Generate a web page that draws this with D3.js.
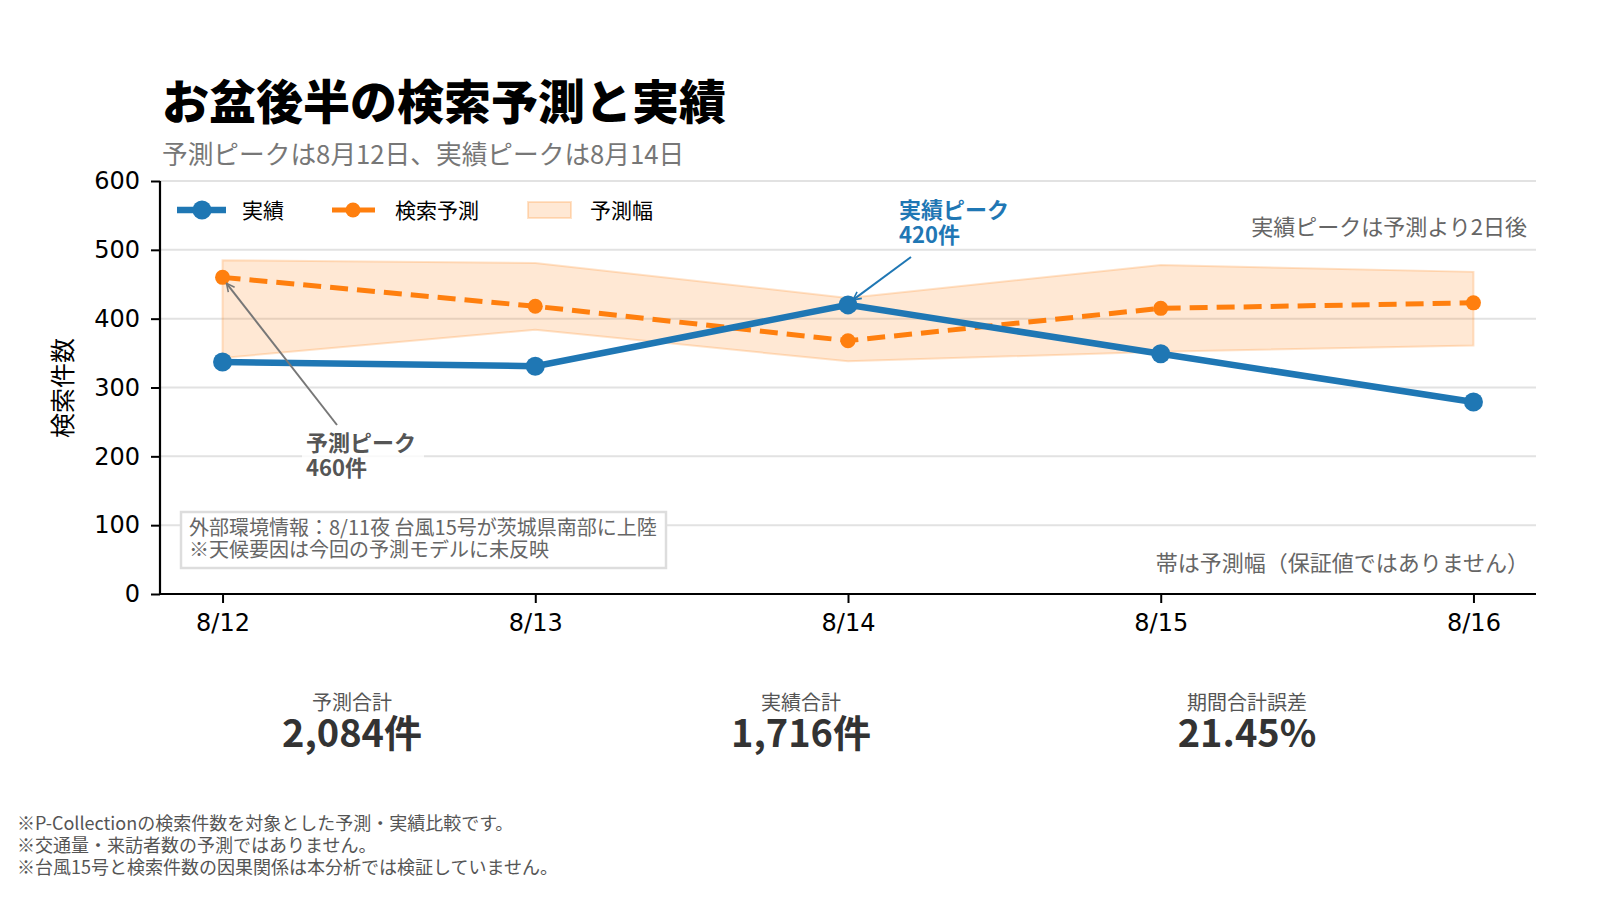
<!DOCTYPE html>
<html lang="ja">
<head>
<meta charset="utf-8">
<script src="https://cdn.jsdelivr.net/npm/d3@7"></script>
<style>
  body { margin: 0; background: #fff; }
  svg { display: block; font-family: "Noto Sans CJK JP", "Noto Sans", sans-serif; }
</style>
</head>
<body>
<svg id="chart" width="1600" height="900"></svg>
<script>
// data
var dates = ["8/12", "8/13", "8/14", "8/15", "8/16"];
var actual = [337, 331, 420, 349, 279];
var forecast = [460, 418, 368, 415, 423];
var bandHigh = [485, 481, 430, 478, 468];
var bandLow = [343, 384, 338, 352, 361];
var yTicks = [0, 100, 200, 300, 400, 500, 600];
var footNotes = [
  "※P-Collectionの検索件数を対象とした予測・実績比較です。",
  "※交通量・来訪者数の予測ではありません。",
  "※台風15号と検索件数の因果関係は本分析では検証していません。"
];

var blue = "#1f77b4", orange = "#ff7f0e";
var svg = d3.select("#chart");
var pLeft = 160, pRight = 1536, pTop = 181, pBottom = 594;

var x = d3.scalePoint().domain(dates).range([pLeft, pRight]).padding(0.2);
var y = d3.scaleLinear().domain([0, 600]).range([pBottom, pTop]);

// title
svg.append("text").attr("x", 162).attr("y", 119)
  .style("font-size", "47px").style("font-weight", "900").style("fill", "#000")
  .text("お盆後半の検索予測と実績");
svg.append("text").attr("x", 162).attr("y", 164)
  .style("font-size", "25.7px").style("fill", "#777")
  .text("予測ピークは8月12日、実績ピークは8月14日");

// grid
svg.append("g").selectAll("line").data(yTicks.slice(1)).join("line")
  .attr("x1", pLeft).attr("x2", pRight)
  .attr("y1", function (d) { return y(d); }).attr("y2", function (d) { return y(d); })
  .style("stroke", "#e2e2e2").style("stroke-width", 2);

// band
var area = d3.area()
  .x(function (d, i) { return x(dates[i]); })
  .y0(function (d, i) { return y(bandLow[i]); })
  .y1(function (d) { return y(d); });
svg.append("path").datum(bandHigh).attr("d", area)
  .style("fill", orange).style("fill-opacity", 0.18)
  .style("stroke", orange).style("stroke-opacity", 0.22).style("stroke-width", 2);

// axes
var yAxis = svg.append("g").attr("transform", "translate(" + pLeft + ",0)")
  .call(d3.axisLeft(y).tickValues(yTicks).tickSize(9).tickPadding(11));
var xAxis = svg.append("g").attr("transform", "translate(0," + pBottom + ")")
  .call(d3.axisBottom(x).tickSize(9).tickPadding(11));
[yAxis, xAxis].forEach(function (g) {
  g.select(".domain").style("stroke", "#000").style("stroke-width", 2.2);
  g.selectAll(".tick line").style("stroke", "#000").style("stroke-width", 2);
  g.selectAll(".tick text").style("font-size", "24px").style("fill", "#000")
    .style("font-family", "'DejaVu Sans', sans-serif");
});
xAxis.select(".domain").attr("d", "M" + pLeft + ",0H" + pRight);
yAxis.select(".domain").attr("d", "M0," + pBottom + "V" + pTop);

svg.append("text")
  .attr("transform", "translate(72,388) rotate(-90)")
  .attr("text-anchor", "middle")
  .style("font-size", "25px").style("fill", "#000")
  .text("検索件数");

// lines
var line = function (vals) {
  return d3.line().x(function (d, i) { return x(dates[i]); }).y(function (d) { return y(d); })(vals);
};
svg.append("path").attr("d", line(forecast))
  .style("fill", "none").style("stroke", orange).style("stroke-width", 5)
  .style("stroke-dasharray", "18,9");
svg.append("g").selectAll("circle").data(forecast).join("circle")
  .attr("cx", function (d, i) { return x(dates[i]); }).attr("cy", function (d) { return y(d); })
  .attr("r", 7.5).style("fill", orange);

svg.append("path").attr("d", line(actual))
  .style("fill", "none").style("stroke", blue).style("stroke-width", 6.5);
svg.append("g").selectAll("circle").data(actual).join("circle")
  .attr("cx", function (d, i) { return x(dates[i]); }).attr("cy", function (d) { return y(d); })
  .attr("r", 9.5).style("fill", blue);

// legend
var lg = svg.append("g").attr("transform", "translate(0,210)");
lg.append("line").attr("x1", 177).attr("x2", 226).style("stroke", blue).style("stroke-width", 6.5);
lg.append("circle").attr("cx", 202).attr("r", 9.5).style("fill", blue);
lg.append("text").attr("x", 242).attr("y", 8).style("font-size", "21px").text("実績");
lg.append("line").attr("x1", 332).attr("x2", 375).style("stroke", orange).style("stroke-width", 5);
lg.append("circle").attr("cx", 353).attr("r", 7.5).style("fill", orange);
lg.append("text").attr("x", 395).attr("y", 8).style("font-size", "21px").text("検索予測");
lg.append("rect").attr("x", 528).attr("y", -8).attr("width", 43).attr("height", 16)
  .style("fill", orange).style("fill-opacity", 0.18)
  .style("stroke", orange).style("stroke-opacity", 0.22).style("stroke-width", 2);
lg.append("text").attr("x", 590).attr("y", 8).style("font-size", "21px").text("予測幅");

// notes in plot
svg.append("text").attr("x", 1527).attr("y", 235).attr("text-anchor", "end")
  .style("font-size", "22px").style("fill", "#666").text("実績ピークは予測より2日後");
svg.append("text").attr("x", 1529).attr("y", 571).attr("text-anchor", "end")
  .style("font-size", "22px").style("fill", "#666").text("帯は予測幅（保証値ではありません）");

svg.append("rect").attr("x", 181).attr("y", 512).attr("width", 485).attr("height", 56)
  .style("fill", "#fff").style("stroke", "#dddddd").style("stroke-width", 2.5);
svg.append("text").attr("x", 189).attr("y", 535)
  .style("font-size", "20px").style("fill", "#666")
  .text("外部環境情報：8/11夜 台風15号が茨城県南部に上陸");
svg.append("text").attr("x", 189).attr("y", 557)
  .style("font-size", "20px").style("fill", "#666")
  .text("※天候要因は今回の予測モデルに未反映");

// annotations
var defs = svg.append("defs");
[["arrGray", "#777"], ["arrBlue", blue]].forEach(function (m) {
  defs.append("marker").attr("id", m[0]).attr("viewBox", "0 0 10 10")
    .attr("refX", 9).attr("refY", 5).attr("markerWidth", 10).attr("markerHeight", 10)
    .attr("markerUnits", "userSpaceOnUse").attr("orient", "auto")
    .append("path").attr("d", "M1,1L9,5L1,9").style("fill", "none")
    .style("stroke", m[1]).style("stroke-width", 1.6);
});
var fi = forecast.indexOf(d3.max(forecast));
var ai = actual.indexOf(d3.max(actual));
svg.append("line").attr("x1", 337).attr("y1", 425)
  .attr("x2", x(dates[fi]) + 4).attr("y2", y(forecast[fi]) + 6)
  .style("stroke", "#777").style("stroke-width", 2).attr("marker-end", "url(#arrGray)");
svg.append("rect").attr("x", 302).attr("y", 430).attr("width", 122).attr("height", 52)
  .style("fill", "#fff").style("fill-opacity", 0.8);
svg.append("text").attr("x", 306).attr("y", 451)
  .style("font-size", "22px").style("font-weight", "bold").style("fill", "#555")
  .text("予測ピーク");
svg.append("text").attr("x", 306).attr("y", 476)
  .style("font-size", "22px").style("font-weight", "bold").style("fill", "#555")
  .text(forecast[fi] + "件");

svg.append("line").attr("x1", 911).attr("y1", 257)
  .attr("x2", x(dates[ai]) + 5).attr("y2", y(actual[ai]) - 5)
  .style("stroke", blue).style("stroke-width", 2).attr("marker-end", "url(#arrBlue)");
svg.append("text").attr("x", 899).attr("y", 218)
  .style("font-size", "22px").style("font-weight", "bold").style("fill", blue)
  .text("実績ピーク");
svg.append("text").attr("x", 899).attr("y", 243)
  .style("font-size", "22px").style("font-weight", "bold").style("fill", blue)
  .text(actual[ai] + "件");

// summary
var fSum = d3.sum(forecast), aSum = d3.sum(actual);
var stats = [
  { label: "予測合計", value: d3.format(",")(fSum) + "件", cx: 352 },
  { label: "実績合計", value: d3.format(",")(aSum) + "件", cx: 801 },
  { label: "期間合計誤差", value: d3.format(".2f")((fSum - aSum) / aSum * 100) + "%", cx: 1247 }
];
var sg = svg.append("g").selectAll("g").data(stats).join("g");
sg.append("text").attr("x", function (d) { return d.cx; }).attr("y", 710)
  .attr("text-anchor", "middle").style("font-size", "20px").style("fill", "#555")
  .text(function (d) { return d.label; });
sg.append("text").attr("x", function (d) { return d.cx; }).attr("y", 747)
  .attr("text-anchor", "middle").style("font-size", "38px").style("font-weight", "bold").style("fill", "#333")
  .text(function (d) { return d.value; });

// footnotes
svg.append("g").selectAll("text").data(footNotes).join("text")
  .attr("x", 17).attr("y", function (d, i) { return 830 + i * 22; })
  .style("font-size", "18px").style("fill", "#555")
  .text(function (d) { return d; });
</script>
</body>
</html>
